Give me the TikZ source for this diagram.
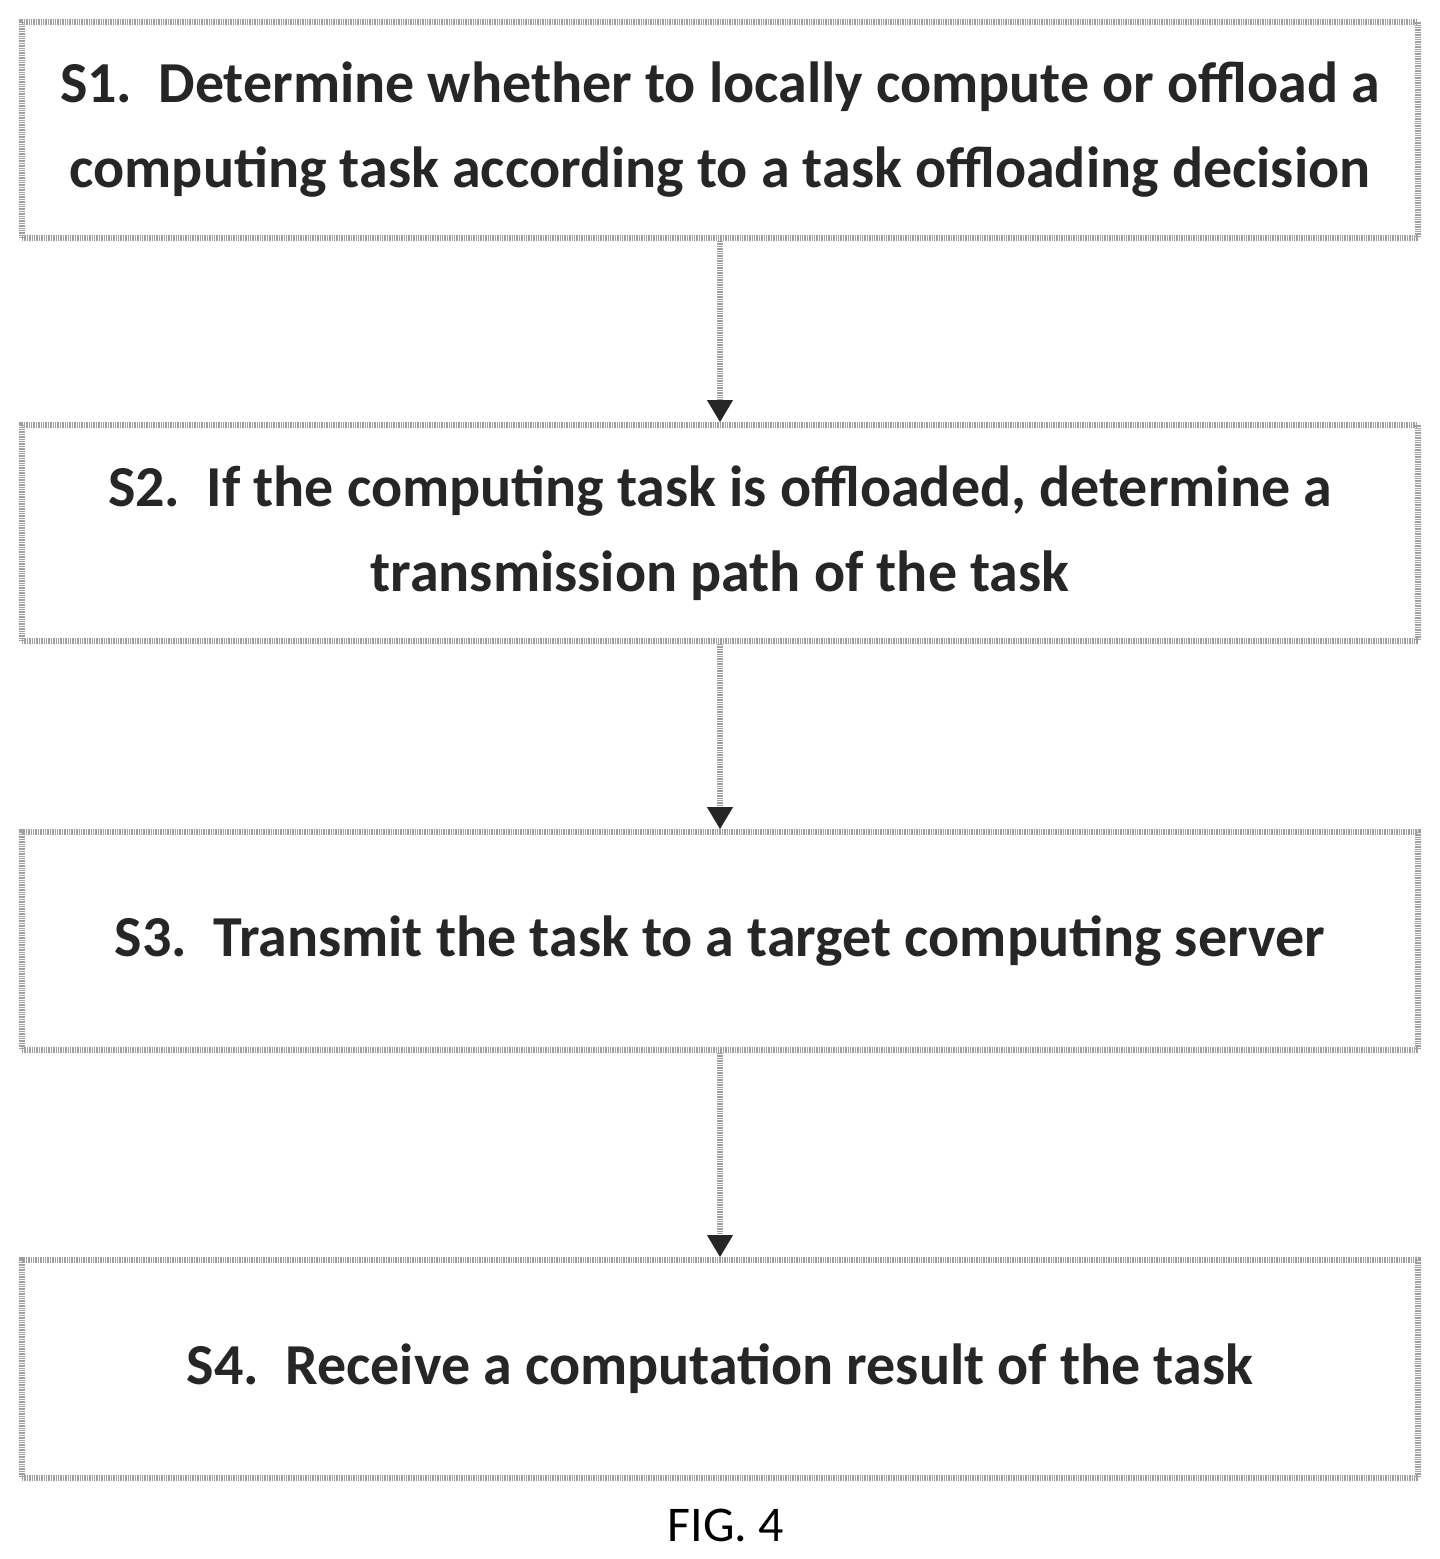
\documentclass[tikz,border=0pt]{standalone}
\usepackage{fontspec}
\setmainfont{Carlito}
\usetikzlibrary{arrows.meta}
\begin{document}
\begin{tikzpicture}[x=0.5pt,y=-0.5pt,
  box/.style={draw=gray!75,line width=3pt,dash pattern=on 0.7pt off 0.5pt,minimum width=698pt,minimum height=108pt,align=center,inner sep=0pt,font=\fontsize{29}{42.5}\selectfont\bfseries,text=black!85},
  arr/.style={draw=gray!75,line width=3pt,dash pattern=on 0.7pt off 0.5pt,-{Triangle[length=11pt,width=13pt,color=black!85,fill=black!85,line width=0.5pt]}}]
\useasboundingbox (0,0) rectangle (1440,1559);
\node[box] (s1) at (720,130) {S1.\ \ Determine whether to locally compute or offload a\\computing task according to a task offloading decision};
\node[box] (s2) at (720,533) {S2.\ \ If the computing task is offloaded, determine a\\transmission path of the task};
\node[box,minimum height=109pt] (s3) at (720,941) {S3.\ \ Transmit the task to a target computing server};
\node[box,minimum height=109pt] (s4) at (720,1369) {S4.\ \ Receive a computation result of the task};
\draw[arr] (s1) -- (s2);
\draw[arr] (s2) -- (s3);
\draw[arr] (s3) -- (s4);
\node[font=\fontsize{25}{30}\selectfont] (cap) at (726,1525) {FIG. 4};
\end{tikzpicture}
\end{document}
